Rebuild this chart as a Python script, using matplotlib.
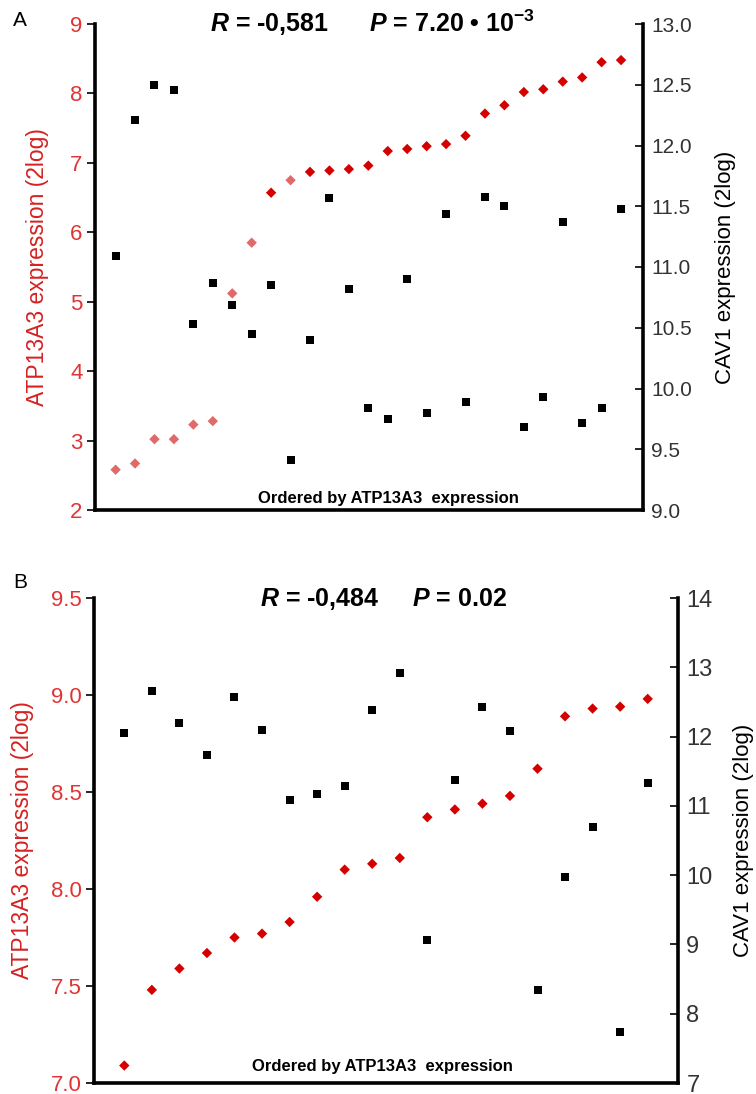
"""
ATP13A3 vs CAV1 expression, samples ordered by ATP13A3 expression.

Two panels, each with ATP13A3 (red diamonds, left axis) and
CAV1 (black squares, right axis).
"""

import numpy as np
import matplotlib.pyplot as plt

plt.rcParams["font.family"] = ["Liberation Sans", "DejaVu Sans"]
plt.rcParams["mathtext.fontset"] = "custom"
plt.rcParams["mathtext.it"] = "Liberation Sans:italic:bold"
plt.rcParams["mathtext.bf"] = "Liberation Sans:bold"
plt.rcParams["mathtext.rm"] = "Liberation Sans:bold"

# Panel A
atp_a = [2.58, 2.67, 3.02, 3.02, 3.23, 3.28, 5.12, 5.85, 6.57, 6.75,
         6.87, 6.89, 6.91, 6.96, 7.17, 7.20, 7.24, 7.27, 7.39, 7.71,
         7.83, 8.02, 8.06, 8.17, 8.23, 8.45, 8.48]
cav_a = [11.09, 12.21, 12.50, 12.46, 10.53, 10.87, 10.69, 10.45, 10.85, 9.41,
         10.40, 11.57, 10.82, 9.84, 9.75, 10.90, 9.80, 11.44, 9.89, 11.58,
         11.50, 9.68, 9.93, 11.37, 9.72, 9.84, 11.48]
stats_a = r"$R$ = -0,581      $P$ = 7.20 • 10$^{-3}$"

# Panel B
atp_b = [7.09, 7.48, 7.59, 7.67, 7.75, 7.77, 7.83, 7.96, 8.10, 8.13,
         8.16, 8.37, 8.41, 8.44, 8.48, 8.62, 8.89, 8.93, 8.94, 8.98]
cav_b = [12.05, 12.66, 12.19, 11.73, 12.57, 12.10, 11.08, 11.17, 11.28, 12.38,
         12.92, 9.06, 11.38, 12.43, 12.08, 8.34, 9.98, 10.70, 7.73, 11.33]
stats_b = r"$R$ = -0,484     $P$ = 0.02"

RED = "#d40000"
PINK = "#e06a6a"
TICK_RED = "#e03434"
LABEL_RED = "#d42222"


def draw_panel(ax, atp, cav, stats, left_lim, left_ticks, left_fmt,
               right_lim, right_ticks, right_fmt, xlim, pale=(), right_size=15,
               title_x=0.5, order_x=0.5, order_y=0.03, label_x=(-0.1, 1.15)):
    """Draw one dual-axis panel."""
    x = np.arange(1, len(atp) + 1)
    colors = [PINK if i in pale else RED for i in range(len(atp))]

    ax.scatter(x, atp, marker="D", s=28, c=colors, linewidths=0, zorder=3)
    ax.set_xlim(*xlim)
    ax.set_ylim(*left_lim)
    ax.set_yticks(left_ticks)
    ax.set_yticklabels([left_fmt.format(t) for t in left_ticks])
    ax.set_xticks([])
    ax.tick_params(axis="y", direction="out", length=6, width=1.2,
                   labelsize=16, labelcolor=TICK_RED, pad=3)
    ax.set_ylabel("ATP13A3 expression (2log)", color=LABEL_RED, fontsize=16.5)
    ax.yaxis.set_label_coords(label_x[0], 0.5)
    for side in ("top", "right"):
        ax.spines[side].set_visible(False)
    for side in ("left", "bottom"):
        ax.spines[side].set_linewidth(2.6)

    ax2 = ax.twinx()
    ax2.scatter(x, cav, marker="s", s=30, c="black", linewidths=0, zorder=3)
    ax2.set_ylim(*right_lim)
    ax2.set_yticks(right_ticks)
    ax2.set_yticklabels([right_fmt.format(t) for t in right_ticks])
    ax2.tick_params(axis="y", direction="in", length=6, width=1.2,
                    labelsize=right_size, labelcolor="#333333", pad=6)
    ax2.set_ylabel("CAV1 expression (2log)", color="black", fontsize=16)
    ax2.yaxis.set_label_coords(label_x[1], 0.5)
    for side in ("top", "left", "bottom"):
        ax2.spines[side].set_visible(False)
    ax2.spines["right"].set_linewidth(2.6)

    ax.text(title_x, 0.984, stats, transform=ax.transAxes, ha="center",
            va="baseline", fontsize=18, fontweight="bold")
    ax.text(order_x, order_y, "Ordered by ATP13A3  expression",
            transform=ax.transAxes, ha="center", va="center",
            fontsize=12, fontweight="bold")


fig = plt.figure(figsize=(7.56, 10.94), dpi=100)

ax_a = fig.add_axes([95 / 756, 1 - 510 / 1094, 548 / 756, 486 / 1094])
draw_panel(ax_a, atp_a, cav_a, stats_a,
           (2, 9), np.arange(2, 10), "{:.0f}",
           (9, 13), np.arange(9, 13.01, 0.5), "{:.1f}",
           (-0.06, 28.13), pale=(0, 1, 2, 3, 4, 5, 6, 7, 9),
           title_x=0.507, order_x=0.536, order_y=0.023, label_x=(-0.084, 1.131))

ax_b = fig.add_axes([94 / 756, 1 - 1083 / 1094, 584 / 756, 485 / 1094])
draw_panel(ax_b, atp_b, cav_b, stats_b,
           (7, 9.5), np.arange(7, 9.51, 0.5), "{:.1f}",
           (7, 14), np.arange(7, 15), "{:.0f}",
           (-0.1, 21.1), right_size=17,
           title_x=0.495, order_x=0.494, order_y=0.034, label_x=(-0.103, 1.094))

fig.text(13 / 756, 1 - 26 / 1094, "A", fontsize=15, va="baseline")
fig.text(13 / 756, 1 - 588 / 1094, "B", fontsize=15, va="baseline")

fig.savefig("out.png", dpi=100)
